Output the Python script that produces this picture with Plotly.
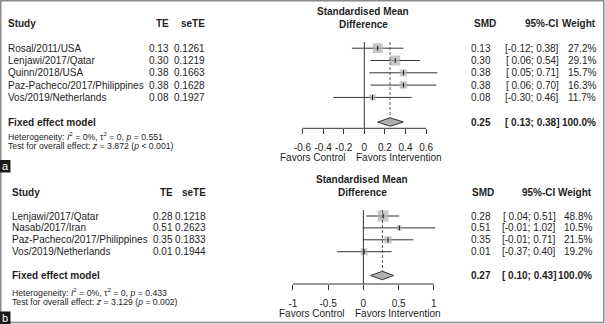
import plotly.graph_objects as go

W, H = 605, 324

# ---------------- data ----------------
studies_a = ["Rosal/2011/USA", "Lenjawi/2017/Qatar", "Quinn/2018/USA",
             "Paz-Pacheco/2017/Philippines", "Vos/2019/Netherlands"]
te_a = [0.13, 0.30, 0.38, 0.38, 0.08]
se_a = [0.1261, 0.1219, 0.1663, 0.1628, 0.1927]
lo_a = [-0.12, 0.06, 0.05, 0.06, -0.30]
hi_a = [0.38, 0.54, 0.71, 0.70, 0.46]
w_a = [27.2, 29.1, 15.7, 16.3, 11.7]
pooled_a = [0.25, 0.13, 0.38]   # estimate, lower, upper
het_a = ["0%", "0", "0.551"]
test_a = ["3.872", "&lt; 0.001"]
ticks_a = [-0.6, -0.4, -0.2, 0, 0.2, 0.4, 0.6]
ticklabels_a = ["-0.6", "-0.4", "-0.2", "0", "0.2", "0.4", "0.6"]

studies_b = ["Lenjawi/2017/Qatar", "Nasab/2017/Iran",
             "Paz-Pacheco/2017/Philippines", "Vos/2019/Netherlands"]
te_b = [0.28, 0.51, 0.35, 0.01]
se_b = [0.1218, 0.2623, 0.1833, 0.1944]
lo_b = [0.04, -0.01, -0.01, -0.37]
hi_b = [0.51, 1.02, 0.71, 0.40]
w_b = [48.8, 10.5, 21.5, 19.2]
pooled_b = [0.27, 0.10, 0.43]
het_b = ["0%", "0", "0.433"]
test_b = ["3.129", "= 0.002"]
ticks_b = [-1, -0.5, 0, 0.5, 1]
ticklabels_b = ["-1", "-0.5", "0", "0.5", "1"]

# ---------------- styling ----------------
FONT = "Liberation Sans, Arial, sans-serif"
TXT = "#1e1e1e"
LINE = "#333333"
SQ = "#b0b0b0"


def px(x):
    return x / W


def py(y):
    return 1 - y / H


def fmt_ci(lo, hi):
    a = f"{lo:.2f}" if lo < 0 else f" {lo:.2f}"
    return f"[{a}; {hi:.2f}]"


fig = go.Figure()
annotations = []
shapes = []


def ann(x, y, text, xanchor="left", size=10, xref="paper", yref="paper", color=TXT):
    annotations.append(dict(x=x, y=y, xref=xref, yref=yref, text=text, showarrow=False,
                            xanchor=xanchor, yanchor="middle", borderpad=0,
                            font=dict(family=FONT, size=size, color=color)))


def panel(studies, te, se, lo, hi, w, pooled, het, test, ticks, ticklabels,
          xa, ya, row0_px, row_h, top_px, axis_px, unit_px, zero_px, rng,
          study_x, te_x, se_x, smd_x, smdh_x, ci_x, wt_x, max_sq, tag, tag_y):
    n = len(studies)
    xref = "x" if xa == "xaxis" else "x2"
    yref = "y" if ya == "yaxis" else "y2"
    r_top = (top_px - row0_px) / row_h
    r_bot = (axis_px - row0_px) / row_h
    d0 = zero_px + rng[0] * unit_px
    d1 = zero_px + rng[1] * unit_px
    fig.layout[xa] = dict(domain=[px(d0), px(d1)], range=rng, anchor=yref,
                          showgrid=False, zeroline=False, showline=False,
                          ticks="outside", ticklen=5, tickwidth=1, tickcolor=LINE,
                          tickvals=ticks, ticktext=ticklabels, ticklabelstandoff=5,
                          tickfont=dict(family=FONT, size=10, color=TXT))
    fig.layout[ya] = dict(domain=[py(axis_px), py(top_px)], range=[r_bot, r_top],
                          anchor=xref, visible=False, showgrid=False, zeroline=False)
    rows = list(range(n))
    # CI lines
    xs, ys = [], []
    for i in rows:
        xs += [lo[i], hi[i], None]
        ys += [i, i, None]
    fig.add_trace(go.Scatter(x=xs, y=ys, mode="lines", xaxis=xref, yaxis=yref,
                             line=dict(color=LINE, width=1), hoverinfo="skip"))
    # squares (area proportional to weight)
    mw = max(w)
    sizes = [max_sq * (wi / mw) ** 0.5 for wi in w]
    fig.add_trace(go.Scatter(x=te, y=rows, mode="markers", xaxis=xref, yaxis=yref,
                             marker=dict(symbol="square", size=sizes, color=SQ,
                                         line=dict(width=0))))
    fig.add_trace(go.Scatter(x=te, y=rows, mode="markers", xaxis=xref, yaxis=yref,
                             marker=dict(symbol="line-ns-open", size=3.5, color="#111111",
                                         line=dict(width=1, color="#111111"))))
    # diamond
    est, plo, phi = pooled
    dr = n + 1
    hh = 4.2 / row_h
    fig.add_trace(go.Scatter(x=[plo, est, phi, est, plo], y=[dr, dr - hh, dr, dr + hh, dr],
                             mode="lines", fill="toself", fillcolor=SQ, xaxis=xref, yaxis=yref,
                             line=dict(color=LINE, width=1)))
    # reference lines
    shapes.append(dict(type="line", xref=xref, yref=yref, x0=0, x1=0, y0=-0.5,
                       y1=r_bot, line=dict(color=LINE, width=1)))
    shapes.append(dict(type="line", xref=xref, yref=yref, x0=est, x1=est, y0=-0.5,
                       y1=dr - hh, line=dict(color="#555555", width=1, dash="3px,2px")))
    shapes.append(dict(type="line", xref=xref, yref=f"{yref} domain", x0=ticks[0],
                       x1=ticks[-1], y0=0, y1=0, line=dict(color=LINE, width=1)))
    # header texts
    ann(px(zero_px - 1), py(row0_px - 36.5), "<b>Standardised Mean</b>", "center")
    ann(px(zero_px - 1), py(row0_px - 24), "<b>Difference</b>", "center")
    ann(px(study_x), -2, "<b>Study</b>", yref=yref)
    ann(px(te_x), -2, "<b>TE</b>", "right", yref=yref)
    ann(px(se_x), -2, "<b>seTE</b>", "right", yref=yref)
    ann(px(smdh_x), -2, "<b>SMD</b>", "right", yref=yref)
    ann(px(ci_x), -2, "<b>95%-CI</b>", "right", yref=yref)
    ann(px(wt_x), -2, "<b>Weight</b>", "right", yref=yref)
    for i in rows:
        ann(px(study_x), i, studies[i], yref=yref)
        ann(px(te_x), i, f"{te[i]:.2f}", "right", yref=yref)
        ann(px(se_x), i, f"{se[i]:.4f}", "right", yref=yref)
        ann(px(smd_x), i, f"{te[i]:.2f}", "right", yref=yref)
        ann(px(ci_x), i, fmt_ci(lo[i], hi[i]), "right", yref=yref)
        ann(px(wt_x), i, f"{w[i]:.1f}%", "right", yref=yref)
    ann(px(study_x), dr, "<b>Fixed effect model</b>", yref=yref)
    ann(px(smd_x), dr, f"<b>{est:.2f}</b>", "right", yref=yref)
    ann(px(ci_x), dr, f"<b>{fmt_ci(plo, phi)}</b>", "right", yref=yref)
    ann(px(wt_x), dr, f"<b>{sum(w):.1f}%</b>", "right", yref=yref)
    # heterogeneity / test
    ann(px(study_x), py(axis_px + 7.5),
        f"Heterogeneity: <i>I</i><sup>2</sup> = {het[0]}, τ<sup>2</sup> = {het[1]}, <i>p</i> = {het[2]}",
        size=8.7)
    ann(px(study_x), py(axis_px + 17.5),
        f"Test for overall effect: <i>z</i> = {test[0]} (<i>p</i> {test[1]})", size=8.7)
    # favors labels
    ann(px(zero_px - 17), py(axis_px + 29.3), "Favors Control", "right")
    ann(px(zero_px - 9), py(axis_px + 29.3), "Favors Intervention", "left")
    # panel tag
    shapes.append(dict(type="rect", xref="paper", yref="paper", x0=0, x1=px(10.5),
                       y0=py(tag_y + 12.5), y1=py(tag_y), fillcolor="#1a1a1a",
                       line=dict(width=0)))
    annotations.append(dict(x=px(5.2), y=py(tag_y + 6.3), xref="paper", yref="paper",
                            text=tag, showarrow=False, xanchor="center", yanchor="middle",
                            font=dict(family=FONT, size=11, color="white")))


panel(studies_a, te_a, se_a, lo_a, hi_a, w_a, pooled_a, het_a, test_a, ticks_a, ticklabels_a,
      "xaxis", "yaxis", row0_px=48.2, row_h=12.3, top_px=1, axis_px=128.3,
      unit_px=103, zero_px=364.3, rng=[-0.9, 0.9],
      study_x=6.7, te_x=169.5, se_x=206, smd_x=492, smdh_x=496.5, ci_x=560, wt_x=596.7,
      max_sq=10, tag="a", tag_y=160)

panel(studies_b, te_b, se_b, lo_b, hi_b, w_b, pooled_b, het_b, test_b, ticks_b, ticklabels_b,
      "xaxis2", "yaxis2", row0_px=216, row_h=11.9, top_px=172, axis_px=284,
      unit_px=70.5, zero_px=363.4, rng=[-1.3, 1.3],
      study_x=11, te_x=174, se_x=207.3, smd_x=491.7, smdh_x=495, ci_x=556.5, wt_x=593.3,
      max_sq=11, tag="b", tag_y=311.5)

# outer frame
shapes.insert(0, dict(type="rect", xref="paper", yref="paper", x0=px(0.8), x1=px(603.8),
                      y0=py(322.5), y1=py(0.8), line=dict(color="#8a8a8a", width=1.5)))

fig.update_layout(width=W, height=H, margin=dict(l=0, r=0, t=0, b=0),
                  paper_bgcolor="white", plot_bgcolor="white", showlegend=False,
                  annotations=annotations, shapes=shapes)

fig.write_html("out.html", config={"displayModeBar": False},
               post_script="document.body.style.margin='0';document.body.style.overflow='hidden';")
